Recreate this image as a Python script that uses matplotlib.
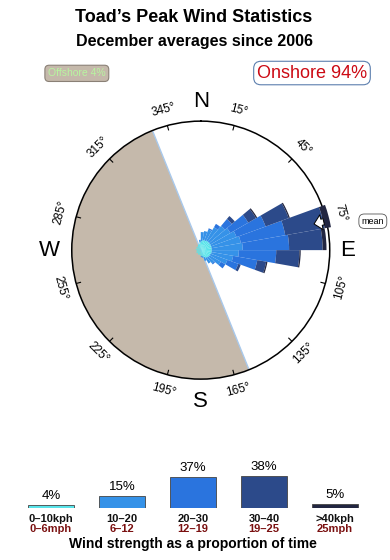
import numpy as np
import matplotlib
matplotlib.use("Agg")
import matplotlib.pyplot as plt

plt.rcParams['font.family'] = ['Liberation Sans', 'DejaVu Sans']

# centre bearing of each 10 degree direction sector
directions = list(range(5, 360, 10))

# length of each speed band per sector, as a fraction of the rim radius
spd_0_10 = [0.07, 0.08, 0.08, 0.085, 0.085, 0.085, 0.085, 0.085, 0.085, 0.085,
            0.085, 0.08, 0.08, 0.075, 0.07, 0.06, 0.05, 0.045, 0.04, 0.035,
            0.04, 0.035, 0.03, 0.04, 0.03, 0.035, 0.03, 0.04, 0.035, 0.03,
            0.04, 0.035, 0.04, 0.045, 0.05, 0.06]
spd_10_20 = [0.07, 0.07, 0.09, 0.12, 0.16, 0.18, 0.21, 0.23, 0.24, 0.21,
             0.17, 0.14, 0.10, 0.06, 0.05, 0.03, 0.01, 0.01, 0.0, 0.0,
             0.0, 0.0, 0.0, 0.0, 0.0, 0.0, 0.0, 0.0, 0.0, 0.0,
             0.0, 0.0, 0.0, 0.0, 0.0, 0.02]
spd_20_30 = [0.0, 0.0, 0.01, 0.03, 0.07, 0.16, 0.24, 0.35, 0.36, 0.29,
             0.19, 0.09, 0.04, 0.01, 0.0, 0.0, 0.0, 0.0, 0.0, 0.0,
             0.0, 0.0, 0.0, 0.0, 0.0, 0.0, 0.0, 0.0, 0.0, 0.0,
             0.0, 0.0, 0.0, 0.0, 0.0, 0.0]
spd_30_40 = [0.0, 0.0, 0.0, 0.0, 0.03, 0.07, 0.19, 0.31, 0.26, 0.18,
             0.07, 0.02, 0.0, 0.0, 0.0, 0.0, 0.0, 0.0, 0.0, 0.0,
             0.0, 0.0, 0.0, 0.0, 0.0, 0.0, 0.0, 0.0, 0.0, 0.0,
             0.0, 0.0, 0.0, 0.0, 0.0, 0.0]
spd_40_up = [0.0, 0.0, 0.0, 0.0, 0.0, 0.01, 0.01, 0.05, 0.03, 0.01,
             0.01, 0.0, 0.0, 0.0, 0.0, 0.0, 0.0, 0.0, 0.0, 0.0,
             0.0, 0.0, 0.0, 0.0, 0.0, 0.0, 0.0, 0.0, 0.0, 0.0,
             0.0, 0.0, 0.0, 0.0, 0.0, 0.0]

speed_share = [4, 15, 37, 38, 5]
speed_kph = ['0–10kph', '10–20', '20–30', '30–40', '>40kph']
speed_mph = ['0–6mph', '6–12', '12–19', '19–25', '25mph']
speed_colors = ['#58e4ea', '#3592e8', '#2a74de', '#2c4a8a', '#222641']

tick_bearings = list(range(15, 360, 30))
compass = {'N': (0, 1.15), 'E': (90, 1.14), 'S': (180, 1.17), 'W': (270, 1.17)}
offshore_from, offshore_to = 158, 338
mean_bearing = 77
offshore_pct = 4
onshore_pct = 94

fig = plt.figure(figsize=(3.9, 5.6), dpi=100)

fig.text(0.497, 1 - 17.5 / 560, 'Toad’s Peak Wind Statistics',
         ha='center', va='center', fontsize=13, fontweight='bold')
fig.text(0.499, 1 - 41.7 / 560, 'December averages since 2006',
         ha='center', va='center', fontsize=11.5, fontweight='bold')

fig.text(0.197, 0.869, f'Offshore {offshore_pct}%', ha='center', va='center',
         fontsize=7.5, color='#b8f5a0',
         bbox=dict(boxstyle='round,pad=0.3,rounding_size=0.4',
                   fc='#c5b9ab', ec='#8a8076', lw=0.8))
fig.text(0.8, 0.8696, f'Onshore {onshore_pct}%', ha='center', va='center',
         fontsize=13, color='#cc0a14',
         bbox=dict(boxstyle='round,pad=0.18,rounding_size=0.4',
                   fc='white', ec='#5c7fae', lw=0.8))

# --- wind rose ---
ax = fig.add_axes([0.184, 0.323, 0.6615, 0.4607], projection='polar')
ax.set_theta_zero_location('N')
ax.set_theta_direction(-1)
ax.set_ylim(0, 1)
ax.set_xticks([])
ax.set_yticks([])
ax.grid(False)
ax.spines['polar'].set_linewidth(1.1)

# offshore half of the compass
mid = np.deg2rad((offshore_from + offshore_to) / 2)
ax.bar(mid, 1, width=np.deg2rad(offshore_to - offshore_from),
       color='#c5b9ab', edgecolor='none')
for b in (offshore_from, offshore_to):
    ax.plot([np.deg2rad(b)] * 2, [0, 1], color='#a9c9ec', lw=1)

theta = np.deg2rad(directions)
width = np.deg2rad(10)
bottom = np.zeros(len(directions))
for band, col in zip([spd_0_10, spd_10_20, spd_20_30, spd_30_40, spd_40_up],
                     speed_colors):
    band = np.array(band)
    ax.bar(theta, band, width=width, bottom=bottom, color=col,
           edgecolor='none', clip_on=False, zorder=3)
    bottom += band

for b in tick_bearings:
    t = np.deg2rad(b)
    ax.plot([t, t], [0.965, 1.0], color='k', lw=0.8)
    rot = ((-b + 180) % 360) - 180
    if rot > 90:
        rot -= 180
    elif rot < -90:
        rot += 180
    ax.text(t, 1.125, f'{b}°', rotation=rot, ha='center', va='center',
            fontsize=8.5, rotation_mode='anchor')

for lab, (b, r) in compass.items():
    ax.text(np.deg2rad(b), r, lab, ha='center', va='center', fontsize=16)

t = np.deg2rad(mean_bearing)
ax.annotate('', xy=(t, 0.88), xytext=(t, 1.0),
            arrowprops=dict(arrowstyle='simple,head_width=1.1,head_length=0.55,tail_width=0.45',
                            fc='white', ec='black', lw=0.7, mutation_scale=10),
            zorder=5, annotation_clip=False)
fig.text(0.956, 0.605, 'mean', ha='center', va='center', fontsize=6.5,
         bbox=dict(boxstyle='round,pad=0.3,rounding_size=0.6',
                   fc='white', ec='#555555', lw=0.6))

# --- speed legend ---
lax = fig.add_axes([15.5 / 390, 51.7 / 560, 355 / 390, 38.25 / 560])
pos = np.arange(len(speed_share))
lax.bar(pos, speed_share, width=0.65, color=speed_colors,
        edgecolor='#444444', linewidth=0.6)
lax.set_xlim(-0.5, len(speed_share) - 0.5)
lax.set_ylim(0, 45)
lax.axis('off')
for i, v in enumerate(speed_share):
    lax.annotate(f'{v}%', (i, v), xytext=(0, 2), textcoords='offset points',
                 ha='center', va='bottom', fontsize=9.5)

for i in range(len(speed_share)):
    x = (51 + 71 * i) / 390
    fig.text(x, 1 - 522.5 / 560, speed_kph[i], ha='center', va='baseline',
             fontsize=8, fontweight='bold', color='#111111')
    fig.text(x, 1 - 532.5 / 560, speed_mph[i], ha='center', va='baseline',
             fontsize=8, color='#7a1010', fontweight='bold')

fig.text(0.495, 0.0214, 'Wind strength as a proportion of time',
         ha='center', va='baseline', fontsize=10, fontweight='bold')

fig.savefig('out.png', dpi=100)
